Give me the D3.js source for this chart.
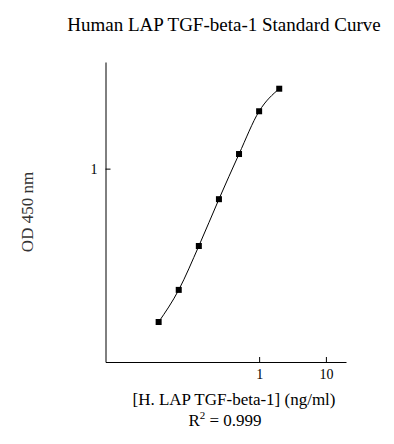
<!DOCTYPE html>
<html>
<head>
<meta charset="utf-8">
<script src="https://cdn.jsdelivr.net/npm/d3@7"></script>
<style>
  body { margin: 0; background: #fff; }
  text { font-family: "Liberation Serif", "Times New Roman", serif; }
</style>
</head>
<body>
<div id="chart"></div>
<script>
// Standard concentrations (ng/ml) and measured OD 450 nm
const concentrations = [0.03125, 0.0625, 0.125, 0.25, 0.5, 1, 2];
const odValues = [0.161, 0.236, 0.398, 0.695, 1.19, 1.98, 2.59];
const xTicks = [1, 10];
const yTicks = [1];

const width = 394, height = 444;
const margin = { top: 62, right: 48, bottom: 82, left: 105.5 };

const svg = d3.create("svg")
    .attr("width", width)
    .attr("height", height);

const x = d3.scaleLog()
    .domain([0.005, 20])
    .range([margin.left, width - margin.right]);

const y = d3.scaleLog()
    .domain([0.1, 3.56])
    .range([height - margin.bottom, margin.top]);

// Axes
svg.append("g")
    .attr("transform", `translate(0,${height - margin.bottom})`)
    .call(d3.axisBottom(x).tickValues(xTicks).tickFormat(d3.format("d"))
        .tickSizeInner(-5).tickSizeOuter(0).tickPadding(7))
    .call(g => g.selectAll("text").attr("font-size", 14).attr("font-family", "Liberation Serif").attr("fill", "#000"));

svg.append("g")
    .attr("transform", `translate(${margin.left},0)`)
    .call(d3.axisLeft(y).tickValues(yTicks).tickFormat(d3.format("d"))
        .tickSizeInner(-5).tickSizeOuter(0).tickPadding(8))
    .call(g => g.selectAll("text").attr("font-size", 14).attr("font-family", "Liberation Serif").attr("fill", "#000"));

// Curve through the standards
const points = concentrations.map((c, i) => [c, odValues[i]]);

svg.append("path")
    .datum(points)
    .attr("fill", "none")
    .attr("stroke", "#000")
    .attr("stroke-width", 1)
    .attr("d", d3.line()
        .x(d => x(d[0]))
        .y(d => y(d[1]))
        .curve(d3.curveMonotoneX));

svg.append("g")
    .selectAll("rect")
    .data(points)
    .enter().append("rect")
    .attr("x", d => x(d[0]) - 3)
    .attr("y", d => y(d[1]) - 3)
    .attr("width", 6)
    .attr("height", 6)
    .attr("fill", "#000");

// Titles
svg.append("text")
    .attr("x", 224)
    .attr("y", 31)
    .attr("text-anchor", "middle")
    .attr("font-size", 19)
    .text("Human LAP TGF-beta-1 Standard Curve");

svg.append("text")
    .attr("transform", `translate(33,212) rotate(-90)`)
    .attr("text-anchor", "middle")
    .attr("font-size", 17)
    .attr("fill", "#333")
    .text("OD 450 nm");

svg.append("text")
    .attr("x", 234)
    .attr("y", 405)
    .attr("text-anchor", "middle")
    .attr("font-size", 17)
    .text("[H. LAP TGF-beta-1] (ng/ml)");

const r2 = svg.append("text")
    .attr("x", 225)
    .attr("y", 426)
    .attr("text-anchor", "middle")
    .attr("font-size", 17);
r2.append("tspan").text("R");
r2.append("tspan").attr("dy", -7).attr("font-size", 11).text("2");
r2.append("tspan").attr("dy", 7).text(" = 0.999");

document.getElementById("chart").appendChild(svg.node());
</script>
</body>
</html>
